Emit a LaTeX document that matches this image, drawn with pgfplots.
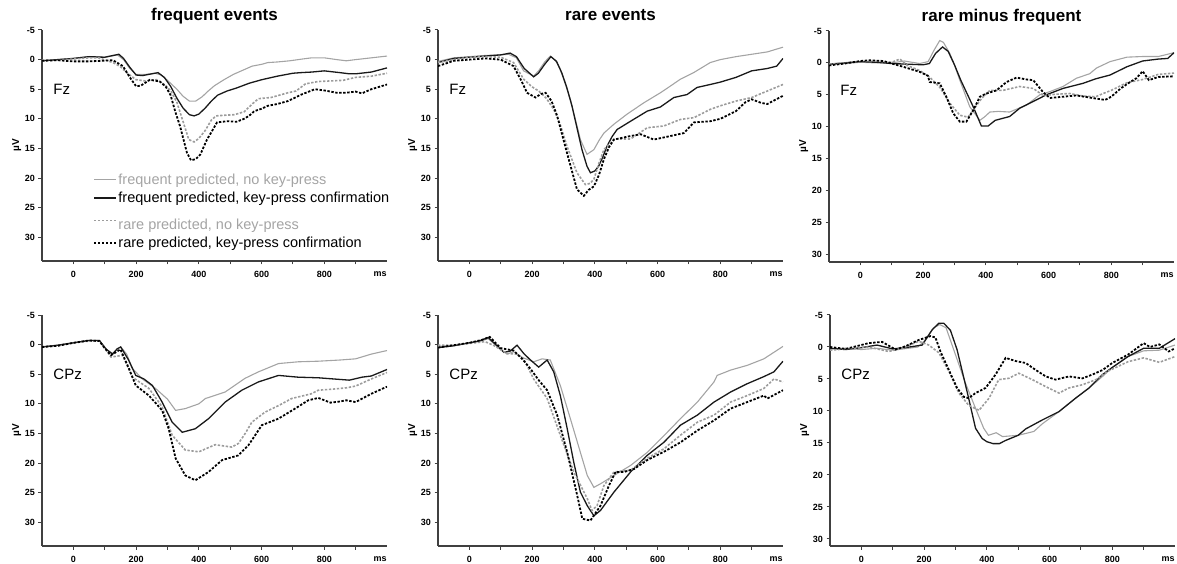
\documentclass[border=0pt]{standalone}
\usepackage{fontspec}
\setmainfont{Liberation Sans}
\usepackage{pgfplots}
\pgfplotsset{compat=1.18}
\definecolor{lgray}{HTML}{A4A4A4}
\definecolor{axgray}{HTML}{404040}

\pgfplotsset{
  erp/.style={
    scale only axis, width=345pt, height=231pt, anchor=south west,
    axis x line*=bottom, axis y line*=left,
    axis line style={line width=1.2pt, axgray, -},
    y dir=reverse, xmin=-100, xmax=1000, ymin=-5,
    xtick={0,100,...,900}, xticklabels={0,,200,,400,,600,,800,},
    ytick={-5,0,...,30},
    tick align=outside, major tick length=3.5pt,
    tick style={line width=1pt, axgray},
    tick label style={font=\bfseries\fontsize{9}{10}\selectfont},
    xticklabel style={yshift=-3pt},
    /pgf/number format/assume math mode=true,
    ylabel={µV},
    ylabel style={font=\bfseries\fontsize{10}{12}\selectfont, at={(axis description cs:-0.073,0.5)}, anchor=center},
    title style={font=\bfseries\fontsize{17}{20}\selectfont, at={(axis description cs:0.5,1)}, anchor=base, yshift=3.5pt},
    clip mode=individual,
  },
  gsolid/.style={lgray, line width=1.1pt},
  bsolid/.style={black!90, line width=1.3pt},
  gdash/.style={lgray!95!black, line width=1.6pt, dash pattern=on 2.4pt off 1.6pt},
  bdash/.style={black, line width=1.8pt, dash pattern=on 2.4pt off 1.6pt},
}
\newcommand{\ms}{\node[anchor=base, font=\bfseries\fontsize{9}{10}\selectfont, yshift=-15.5pt] at (axis description cs:0.98,0) {ms};}
\newcommand{\site}[1]{\node[anchor=west, font=\fontsize{15}{18}\selectfont] at (axis description cs:0.023,0.745) {#1};}

\begin{document}
\begin{tikzpicture}
\path[use as bounding box] (0,0) rectangle (1177pt,564pt);

% ---------- Fz, frequent events
\begin{axis}[erp, at={(42pt,303pt)}, ymax=34, title={frequent events},
  legend style={draw=none, fill=none, at={(0.139,0.39)}, anchor=north west,
    font=\fontsize{14.5}{17}\selectfont, legend cell align=left,
    nodes={inner sep=0pt}, row sep=6pt,
    /tikz/every odd column/.append style={column sep=1.5pt}},
  legend image code/.code={\draw[#1] (0pt,0pt) -- (22pt,0pt);}]
\addplot[gsolid] coordinates {(-100,0.2) (-50,0) (0,-0.2) (50,-0.5) (100,-0.4) (140,-0.8) (160,0) (180,1.5) (200,2.5) (230,2.5) (260,2.3) (280,2.6) (300,3.5) (330,5.0) (350,6.2) (370,7.0) (390,7.0) (410,6.3) (430,5.3) (450,4.4) (480,3.4) (510,2.5) (540,1.8) (570,1.1) (600,0.8) (620,0.5) (650,0.4) (690,0.2) (730,-0.1) (760,-0.3) (800,-0.3) (840,0) (870,0.2) (900,0) (950,-0.3) (1000,-0.6)};
\addlegendentry{\rule[-3pt]{0pt}{14pt}\textcolor{lgray}{frequent predicted, no key-press}}
\addplot[bsolid] coordinates {(-100,0.2) (-50,0) (0,-0.2) (50,-0.5) (100,-0.4) (145,-0.9) (160,-0.2) (180,1.3) (200,2.6) (220,2.7) (250,2.4) (270,2.2) (290,3.0) (310,4.5) (330,6.5) (350,8.2) (370,9.3) (385,9.5) (400,9.2) (420,8.2) (440,7.0) (460,6.0) (490,5.3) (520,4.8) (560,4.0) (600,3.4) (650,2.8) (700,2.3) (725,2.2) (760,2.1) (800,1.9) (850,2.2) (880,2.4) (900,2.4) (950,2.1) (1000,1.4)};
\addlegendentry{\rule[-3pt]{0pt}{14pt}frequent predicted, key-press confirmation}
\addplot[gdash] coordinates {(-100,0.1) (-50,0.1) (0,-0.1) (50,-0.3) (80,-0.3) (110,0.2) (130,0.6) (150,1.2) (170,2.2) (200,3.4) (230,3.6) (265,3.4) (290,4.2) (310,5.2) (330,7.2) (350,10.5) (368,13.5) (385,13.9) (400,13.3) (420,12.0) (440,10.2) (455,9.5) (480,9.4) (513,9.3) (545,8.8) (570,7.5) (590,6.6) (630,6.4) (684,5.6) (710,5.3) (740,4.1) (780,3.7) (820,3.6) (860,3.5) (900,3.0) (950,2.8) (1000,2.3)};
\addlegendentry{\rule[-3pt]{0pt}{22pt}\textcolor{lgray}{rare predicted, no key-press}}
\addplot[bdash] coordinates {(-100,0.2) (-50,0.1) (0,0.3) (50,0.3) (90,0.2) (126,0.1) (158,1.1) (180,3.0) (200,4.5) (215,4.4) (244,3.4) (276,3.7) (295,4.6) (310,6.0) (325,8.8) (340,11.2) (362,15.7) (375,17.0) (390,16.8) (405,16.0) (426,13.5) (445,11.8) (458,10.6) (490,10.4) (520,10.5) (544,10.0) (560,9.5) (577,8.7) (600,8.3) (620,7.8) (650,7.5) (684,7.0) (700,6.6) (727,5.9) (770,5.0) (800,5.2) (840,5.6) (870,5.6) (900,5.4) (920,5.7) (950,5.0) (1000,4.2)};
\addlegendentry{\rule[-3pt]{0pt}{14pt}rare predicted, key-press confirmation}
\site{Fz}\ms
\end{axis}

% ---------- Fz, rare events
\begin{axis}[erp, at={(438pt,303pt)}, ymax=34, title={rare events}]
\addplot[gsolid] coordinates {(-100,0.3) (-50,-0.3) (0,-0.5) (50,-0.7) (100,-0.8) (125,-0.9) (150,-0.3) (173,1.9) (205,2.8) (222,1.8) (240,0.4) (258,-0.6) (275,0.2) (290,1.6) (305,4.0) (322,6.7) (340,10.5) (354,13.5) (375,16.0) (397,15.2) (415,13.5) (429,12.4) (461,10.9) (503,9.2) (556,7.3) (609,5.6) (640,4.5) (673,3.3) (715,2.2) (768,0.5) (800,0.0) (850,-0.5) (900,-0.9) (950,-1.3) (1000,-2.1)};
\addplot[bsolid] coordinates {(-100,0.5) (-50,-0.2) (0,-0.4) (50,-0.6) (100,-0.8) (130,-1.1) (150,-0.5) (175,1.5) (205,2.9) (220,2.3) (240,0.8) (260,-0.5) (278,0.3) (295,2.3) (310,4.6) (327,7.8) (343,11.5) (359,15.2) (375,18.0) (386,19.1) (400,18.8) (412,18.0) (425,16.5) (439,14.6) (455,13.0) (471,11.8) (514,10.4) (567,8.7) (609,8.0) (652,6.4) (694,5.9) (726,4.7) (768,4.2) (800,3.8) (850,3.0) (900,1.9) (950,1.5) (980,1.1) (1000,-0.2)};
\addplot[gdash] coordinates {(-100,0.5) (-50,0) (0,-0.4) (50,-0.5) (100,-0.4) (141,0.5) (173,3.3) (200,4.6) (221,5.3) (245,6.5) (269,8.4) (290,11.0) (311,14.6) (343,19.1) (370,21.1) (385,20.9) (397,20.2) (413,17.5) (429,15.2) (461,13.4) (514,13.4) (567,11.5) (620,11.2) (673,10.1) (716,9.8) (768,8.4) (800,7.8) (850,7.0) (900,6.4) (950,5.3) (1000,4.2)};
\addplot[bdash] coordinates {(-100,1.1) (-50,0.2) (0,0.0) (50,-0.2) (100,0) (141,1.1) (165,3.5) (184,5.6) (211,6.4) (228,5.8) (243,5.6) (262,7.0) (280,9.5) (311,15.7) (343,21.9) (365,23.0) (380,22.0) (397,21.4) (413,19.5) (429,16.8) (445,14.8) (461,13.5) (514,12.9) (546,12.6) (588,13.5) (641,12.9) (684,12.4) (716,10.6) (768,10.4) (800,10.0) (850,8.7) (880,7.2) (900,6.7) (930,7.3) (950,7.5) (1000,6.1)};
\site{Fz}\ms
\end{axis}

% ---------- Fz, rare minus frequent
\begin{axis}[erp, at={(829pt,302pt)}, ymax=31.2, title={rare minus frequent}]
\addplot[gsolid] coordinates {(-100,0.3) (-50,0.1) (0,-0.1) (50,0) (100,0) (140,-0.3) (189,0.1) (216,-0.2) (235,-2.0) (253,-3.5) (265,-3.2) (285,-1.5) (300,0.3) (317,2.7) (349,6.9) (381,9.0) (395,8.5) (413,7.7) (440,7.6) (476,7.7) (530,6.6) (572,5.0) (604,4.5) (646,3.7) (689,2.4) (731,1.7) (753,0.8) (796,-0.2) (850,-0.9) (900,-1.0) (950,-1.0) (1000,-1.6)};
\addplot[bsolid] coordinates {(-100,0.2) (-50,0) (0,-0.2) (50,-0.1) (100,0.1) (150,0.2) (200,0.3) (220,0.1) (240,-1.5) (262,-2.5) (280,-1.8) (300,0.3) (320,2.7) (340,4.8) (360,6.9) (386,9.9) (407,9.9) (430,9.0) (476,8.4) (508,7.1) (561,5.8) (593,5.0) (646,4.0) (710,3.2) (750,2.5) (796,1.9) (850,0.6) (900,-0.3) (950,-0.6) (980,-0.7) (1000,-1.6)};
\addplot[gdash] coordinates {(-100,0.2) (-50,0) (0,-0.2) (50,-0.3) (100,-0.1) (126,-0.6) (150,0.4) (189,1.2) (220,2.2) (253,3.8) (285,6.3) (317,8.2) (343,8.5) (360,7.4) (386,5.6) (413,4.3) (455,4.3) (508,3.7) (551,4.0) (583,5.1) (625,4.9) (668,4.8) (710,5.2) (750,5.3) (774,4.8) (800,4.3) (850,3.1) (900,2.6) (950,1.8) (1000,1.6)};
\addplot[bdash] coordinates {(-100,0.4) (-50,0.1) (0,-0.3) (30,-0.4) (73,-0.3) (100,0.1) (136,0.6) (189,1.4) (215,2.0) (221,3.0) (253,3.2) (274,5.3) (296,7.9) (317,9.2) (338,9.2) (360,7.4) (381,5.3) (402,4.8) (434,4.3) (466,3.0) (498,2.3) (530,2.6) (551,2.7) (583,4.6) (604,5.5) (646,5.3) (689,5.1) (753,5.6) (780,5.8) (800,5.3) (830,4.0) (860,3.0) (880,2.4) (900,1.3) (920,2.7) (950,2.2) (1000,2.1)};
\site{Fz}\ms
\end{axis}

% ---------- CPz, frequent events
\begin{axis}[erp, at={(42pt,18pt)}, ymax=34]
\addplot[gsolid] coordinates {(-100,0.4) (-50,0.1) (0,-0.3) (50,-0.7) (83,-0.7) (105,0.8) (125,1.5) (140,0.7) (151,0.4) (170,1.6) (188,4.0) (220,5.8) (262,7.4) (300,9.2) (326,11.1) (357,10.8) (400,10.0) (421,9.1) (450,8.6) (484,8.0) (547,5.7) (590,4.6) (654,3.2) (717,2.9) (781,2.8) (850,2.6) (900,2.4) (950,1.6) (1000,1.0)};
\addplot[bsolid] coordinates {(-100,0.4) (-50,0.1) (0,-0.3) (50,-0.7) (83,-0.7) (105,0.8) (125,1.6) (140,0.7) (151,0.4) (175,2.5) (199,5.2) (225,5.8) (252,6.9) (283,9.7) (315,13.1) (347,14.8) (389,14.2) (431,12.5) (484,9.7) (537,7.7) (590,6.3) (654,5.2) (717,5.5) (781,5.6) (830,5.8) (880,6.0) (920,5.5) (950,5.3) (1000,4.2)};
\addplot[gdash] coordinates {(-100,0.4) (-50,0.2) (0,-0.3) (50,-0.6) (83,-0.6) (100,0.6) (120,2.1) (157,1.8) (188,5.5) (241,7.4) (283,10.5) (315,15.3) (357,17.8) (400,18.1) (452,16.9) (505,17.3) (526,16.7) (548,15.0) (569,13.1) (611,11.4) (654,10.3) (696,9.1) (759,8.3) (781,7.7) (830,7.5) (870,7.3) (900,7.0) (950,5.8) (1000,4.7)};
\addplot[bdash] coordinates {(-100,0.4) (-50,0.2) (0,-0.3) (50,-0.7) (83,-0.6) (100,0.6) (120,1.8) (150,0.8) (177,4.0) (199,6.9) (241,8.6) (283,11.1) (304,14.2) (326,19.2) (357,22.1) (389,22.9) (431,21.5) (474,19.5) (526,18.7) (558,17.0) (601,13.6) (654,12.5) (707,10.8) (749,9.4) (781,9.0) (820,9.8) (850,9.6) (870,9.4) (900,9.7) (950,8.3) (1000,7.1)};
\site{CPz}\ms
\end{axis}

% ---------- CPz, rare events
\begin{axis}[erp, at={(438pt,18pt)}, ymax=34]
\addplot[gsolid] coordinates {(-100,0.3) (-50,0.1) (0,-0.3) (30,-0.5) (60,-1.0) (100,0.8) (120,1.6) (141,1.2) (170,2.2) (205,2.9) (232,2.4) (258,2.6) (290,6.9) (322,12.5) (354,18.2) (376,22.1) (397,24.1) (418,23.5) (461,22.1) (514,20.4) (567,18.2) (620,15.4) (673,12.5) (727,9.7) (780,6.3) (790,5.2) (833,4.3) (886,3.5) (939,2.4) (1000,0.3)};
\addplot[bsolid] coordinates {(-100,0.5) (-50,0.2) (0,-0.3) (30,-0.6) (60,-1.2) (80,-0.2) (110,1.3) (130,1.1) (152,0.1) (175,1.6) (195,2.6) (221,3.8) (248,2.6) (269,4.6) (290,8.6) (312,14.2) (333,19.9) (354,24.9) (376,27.2) (397,28.9) (418,28.0) (461,24.9) (514,21.5) (567,18.7) (620,16.5) (673,13.6) (727,11.9) (780,9.7) (833,8.0) (886,6.6) (939,5.4) (971,4.6) (1000,2.8)};
\addplot[gdash] coordinates {(-100,0.1) (-50,0.1) (0,-0.2) (50,-0.5) (80,0.2) (120,1.5) (150,1.6) (173,2.4) (205,5.8) (248,9.1) (290,15.3) (333,21.5) (376,26.0) (391,28.0) (407,27.2) (429,23.8) (461,21.5) (514,21.2) (567,19.2) (620,17.6) (673,15.3) (727,13.1) (780,11.9) (833,9.7) (886,8.6) (939,7.4) (971,5.8) (1000,6.3)};
\addplot[bdash] coordinates {(-100,0.5) (-50,0.1) (0,-0.3) (40,-0.8) (65,-1.3) (100,0.6) (141,1.0) (170,2.5) (195,4.1) (221,6.0) (248,7.7) (280,11.9) (312,18.2) (344,25.5) (360,29.4) (386,29.7) (418,27.2) (445,23.8) (466,21.5) (493,21.5) (525,21.0) (567,19.5) (620,18.1) (673,16.5) (727,14.5) (780,12.8) (833,10.8) (886,9.7) (939,8.6) (950,9.1) (1000,7.7)};
\site{CPz}\ms
\end{axis}

% ---------- CPz, rare minus frequent
\begin{axis}[erp, at={(830pt,18pt)}, ymax=31.1]
\addplot[gsolid] coordinates {(-100,0.3) (-50,0.2) (0,0.4) (50,0.2) (100,0.5) (150,0.2) (180,0) (200,-0.9) (230,-3.0) (250,-3.5) (270,-3.0) (300,1.2) (330,5.4) (360,9.1) (390,12.7) (405,13.8) (430,13.4) (450,14.0) (500,13.8) (550,13.2) (577,12.0) (630,10.1) (683,8.0) (726,6.4) (769,4.6) (800,3.2) (850,1.5) (900,0.6) (950,0.5) (1000,-0.3)};
\addplot[bsolid] coordinates {(-100,0.2) (-50,0.4) (0,0.1) (50,-0.3) (100,0.3) (140,0.1) (194,-0.3) (226,-2.7) (247,-3.7) (263,-3.7) (284,-2.6) (305,0.4) (327,4.9) (342,8.0) (364,12.7) (385,14.3) (400,14.8) (420,15.1) (440,15.1) (460,14.6) (500,13.8) (524,12.8) (577,11.4) (630,10.1) (683,8.0) (726,6.4) (769,4.3) (800,3.2) (850,1.5) (900,0.2) (950,0.2) (1000,-1.3)};
\addplot[gdash] coordinates {(-100,0.5) (-50,0.3) (23,0) (87,0.7) (130,0.2) (183,-0.9) (215,-0.3) (247,0.9) (279,3.8) (311,7.2) (342,9.1) (375,9.9) (407,8.0) (438,5.1) (470,4.9) (502,4.1) (545,5.1) (588,6.2) (630,7.2) (662,6.4) (705,5.9) (748,5.1) (785,3.8) (820,3.0) (850,2.3) (900,1.7) (950,2.4) (1000,1.5)};
\addplot[bdash] coordinates {(-100,0) (-50,0.3) (23,-0.6) (66,-0.8) (109,0.4) (140,-0.1) (183,-1.1) (220,-1.7) (236,-1.5) (252,0.7) (279,3.6) (305,6.4) (327,7.8) (342,8.0) (364,7.2) (396,6.4) (428,4.3) (460,1.7) (492,2.2) (524,2.5) (556,3.6) (588,4.6) (619,5.1) (662,4.6) (705,4.9) (737,4.3) (769,3.6) (800,2.5) (850,1.2) (900,-0.6) (920,0) (950,-0.4) (980,0.7) (1000,0.2)};
\site{CPz}\ms
\end{axis}
\end{tikzpicture}
\end{document}
